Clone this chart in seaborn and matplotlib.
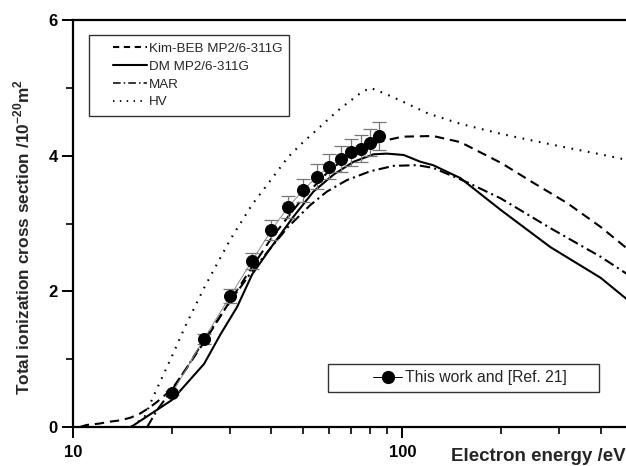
import numpy as np
import pandas as pd
import matplotlib
matplotlib.use("Agg")
import matplotlib.pyplot as plt
import seaborn as sns
from matplotlib.lines import Line2D
from matplotlib.legend_handler import HandlerLine2D

# ---------------- data ----------------
exp_energy = [20, 25, 30, 35, 40, 45, 50, 55, 60, 65, 70, 75, 80, 85]
exp_sigma = [0.50, 1.30, 1.93, 2.45, 2.90, 3.24, 3.49, 3.69, 3.84, 3.95, 4.05, 4.10, 4.19, 4.29]
exp_err = [0.03, 0.07, 0.10, 0.12, 0.145, 0.16, 0.17, 0.18, 0.19, 0.19, 0.20, 0.20, 0.20, 0.20]

beb_energy = [10.5, 11, 12, 13, 14, 15, 16, 17, 18, 20, 22, 25, 30, 35, 40, 45, 50, 60, 70, 80, 90,
              100, 124, 150, 200, 250, 317, 400, 476, 500]
beb_sigma = [0.0, 0.03, 0.05, 0.08, 0.10, 0.14, 0.20, 0.28, 0.37, 0.56, 0.85, 1.25, 1.86, 2.36, 2.78,
             3.10, 3.38, 3.78, 4.03, 4.17, 4.23, 4.28, 4.29, 4.20, 3.89, 3.60, 3.30, 2.95, 2.65, 2.57]

dm_energy = [15, 20, 25, 28, 31.5, 35, 39.7, 46.7, 53.7, 61.8, 71.1, 81.8, 89.8, 101, 113.5, 124,
             150, 199, 282, 400, 476, 500]
dm_sigma = [0.0, 0.40, 0.93, 1.36, 1.77, 2.25, 2.63, 3.10, 3.47, 3.72, 3.91, 4.02, 4.03, 4.01, 3.91,
            3.86, 3.67, 3.20, 2.65, 2.20, 1.90, 1.83]

mar_energy = [16.8, 18, 20, 22, 25, 30, 35, 40, 45, 52.5, 59, 67.9, 79.9, 94.1, 110.8, 124, 157,
              199, 282, 400, 476, 500]
mar_sigma = [0.0, 0.25, 0.55, 0.85, 1.28, 1.85, 2.30, 2.65, 2.95, 3.27, 3.47, 3.64, 3.77, 3.85, 3.86,
             3.82, 3.61, 3.37, 2.93, 2.51, 2.27, 2.20]

hv_energy = [10, 15, 16.5, 17.5, 20, 22, 25, 30, 35, 40, 45, 50, 55, 60, 65, 70, 75, 80, 90, 100,
             120, 150, 200, 250, 300, 400, 500]
hv_sigma = [0.0, 0.0, 0.15, 0.44, 1.05, 1.50, 2.05, 2.76, 3.28, 3.65, 3.98, 4.20, 4.38, 4.55, 4.70,
            4.82, 4.93, 5.00, 4.90, 4.80, 4.62, 4.47, 4.32, 4.22, 4.14, 4.02, 3.92]

labels = ["Kim-BEB MP2/6-311G", "DM MP2/6-311G", "MAR", "HV"]
exp_label = "This work and [Ref. 21]"


class ShiftedHandler(HandlerLine2D):
    """Line handle drawn only on the right part of the handle box."""
    def __init__(self, shift, **kw):
        super().__init__(**kw)
        self.shift = shift

    def create_artists(self, legend, orig_handle, xdescent, ydescent, width, height,
                       fontsize, trans):
        return super().create_artists(legend, orig_handle, xdescent - self.shift, ydescent,
                                      width - self.shift, height, fontsize, trans)


# ---------------- plotting ----------------
sns.set_theme(style="ticks")
plt.rcParams["font.family"] = ["Liberation Sans", "DejaVu Sans"]
plt.rcParams["mathtext.fontset"] = "custom"
plt.rcParams["mathtext.bf"] = "Liberation Sans:bold"
plt.rcParams["mathtext.rm"] = "Liberation Sans:bold"

W, H = 626, 466
fig = plt.figure(figsize=(W / 100, H / 100), dpi=100)
ax_l, ax_b, ax_w, ax_h = 73, 427, 559.5, 407
ax = fig.add_axes([ax_l / W, (H - ax_b) / H, ax_w / W, ax_h / H])


def to_axes(px, py):
    return (px - ax_l) / ax_w, (ax_b - py) / ax_h


lw = 1.5
curves = [
    (beb_energy, beb_sigma, (4.5, 2.8)),
    (dm_energy, dm_sigma, None),
    (mar_energy, mar_sigma, (5, 2, 1, 2)),
    (hv_energy, hv_sigma, (0.8, 3.2)),
]
for (xs, ys, dash), lab in zip(curves, labels):
    df = pd.DataFrame({"E": xs, "s": ys})
    sns.lineplot(data=df, x="E", y="s", ax=ax, color="black", lw=lw, legend=False, sort=False)
    if dash is not None:
        ax.lines[-1].set_dashes(dash)

ax.errorbar(exp_energy, exp_sigma, yerr=exp_err, fmt="none", ecolor="#777777",
            elinewidth=0.9, capsize=5, capthick=0.9, zorder=3)
df_exp = pd.DataFrame({"E": exp_energy, "s": exp_sigma})
sns.lineplot(data=df_exp, x="E", y="s", ax=ax, color="#888888", lw=0.7, legend=False, zorder=3)
sns.scatterplot(data=df_exp, x="E", y="s", ax=ax, color="black", s=75, edgecolor="black",
                legend=False, zorder=5)

ax.set_xscale("log")
ax.set_xlim(10, 500)
ax.set_ylim(0, 6)
ax.set_xticks([10, 100])
ax.set_xticklabels(["10", "100"])
ax.set_xticks([20, 30, 40, 50, 60, 70, 80, 90, 200, 300, 400], minor=True)
ax.xaxis.set_minor_formatter(matplotlib.ticker.NullFormatter())
ax.set_yticks([0, 2, 4, 6])
ax.set_yticks([1, 3, 5], minor=True)

for s in ["left", "bottom", "top"]:
    ax.spines[s].set_linewidth(1.6)
    ax.spines[s].set_color("black")
ax.spines["right"].set_visible(False)

ax.tick_params(axis="both", which="major", direction="out", length=8, width=1.4,
               labelsize=12, colors="black", pad=3)
ax.tick_params(axis="both", which="minor", direction="out", length=5, width=1.2, colors="black")
ax.tick_params(axis="x", which="major", pad=5)
for t in ax.get_xticklabels() + ax.get_yticklabels():
    t.set_fontweight("bold")

ax.set_xlabel("")
ax.set_ylabel("")
fig.text(22 / W, 1 - 237 / H, r"Total ionization cross section /10$^{-20}$m$^{2}$",
         rotation=90, ha="center", va="center", fontsize=12.4, fontweight="bold")
fig.text(1.0, 1 - 461 / H, "Electron energy /eV", ha="right", va="baseline",
         fontsize=13.5, fontweight="bold")

# legend 1
handles1 = [
    Line2D([], [], color="black", lw=lw, dashes=(3, 2.2)),
    Line2D([], [], color="black", lw=lw),
    Line2D([], [], color="black", lw=1.1, dashes=(5, 2, 1, 2)),
    Line2D([], [], color="black", lw=1.3, dashes=(0.8, 3)),
]
x0, y0 = to_axes(89, 115)
x1, y1 = to_axes(289, 35)
fs1 = 9.6
shift1 = 12
leg1 = ax.legend(handles1, labels, loc="upper left",
                 bbox_to_anchor=(x0, y0, x1 - x0, y1 - y0), mode="expand",
                 frameon=True, fancybox=False, edgecolor="black", fontsize=fs1,
                 handlelength=(39 + shift1) / (fs1 * 100 / 72), handletextpad=0.15,
                 borderpad=0.55, labelspacing=0.42, borderaxespad=0,
                 handler_map={h: ShiftedHandler(shift1) for h in handles1})
leg1.get_frame().set_linewidth(1.0)
ax.add_artist(leg1)

# legend 2
handle2 = Line2D([], [], color="black", lw=0.7, marker="o", markersize=8.5)
x0, y0 = to_axes(328, 395)
x1, y1 = to_axes(599, 364)
fs2 = 11.3
shift2 = 28
leg2 = ax.legend([handle2], [exp_label], loc="upper left",
                 bbox_to_anchor=(x0, y0, x1 - x0, y1 - y0), mode="expand",
                 frameon=True, fancybox=False, edgecolor="black", fontsize=fs2,
                 handlelength=(40 + shift2) / (fs2 * 100 / 72), handletextpad=0.2,
                 borderpad=0.4, borderaxespad=0,
                 handler_map={handle2: ShiftedHandler(shift2, marker_pad=0.3, numpoints=1)})
leg2.get_frame().set_linewidth(1.0)

fig.savefig("out.png", dpi=100)
